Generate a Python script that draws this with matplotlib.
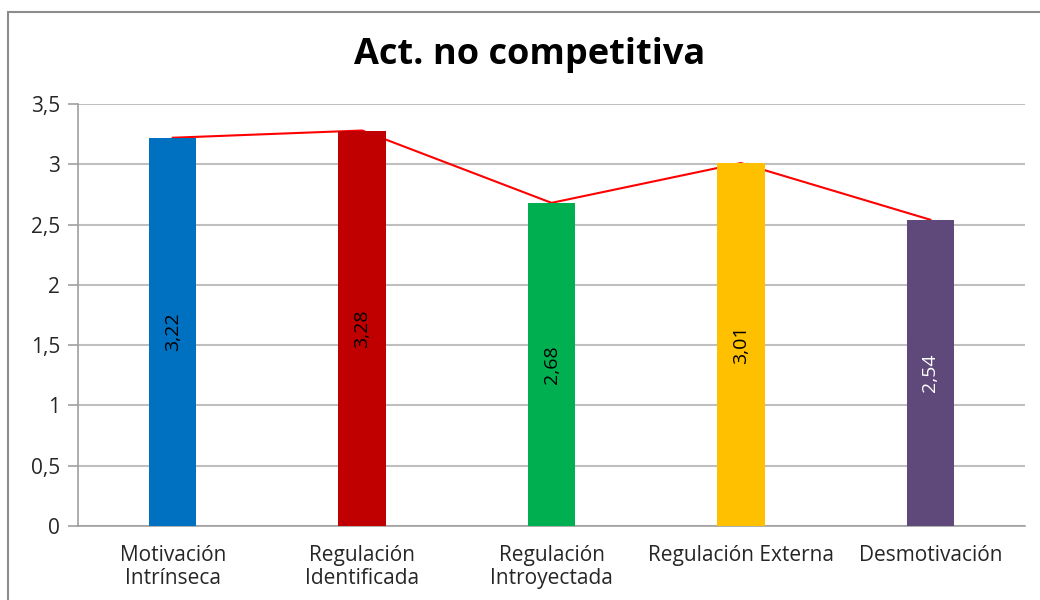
import matplotlib
matplotlib.use('Agg')
import matplotlib.pyplot as plt
import matplotlib.patches as mpatches
from matplotlib.ticker import FuncFormatter, MultipleLocator

# datos
categorias = ['Motivación\nIntrínseca', 'Regulación\nIdentificada', 'Regulación\nIntroyectada',
              'Regulación Externa', 'Desmotivación']
valores = [3.22, 3.28, 2.68, 3.01, 2.54]
colores = ['#0070C0', '#C00000', '#00B050', '#FFC000', '#5F497A']
color_texto = ['black', 'black', 'black', 'black', 'white']

plt.rcParams['font.family'] = ['Open Sans', 'DejaVu Sans']

fig = plt.figure(figsize=(10.4, 6), dpi=100)
ax = fig.add_axes([0.075, 0.1233, 0.9106, 0.7034])

x = range(len(categorias))

# línea roja detrás de las barras
ax.plot(x, valores, color='#FF0000', lw=1.5, zorder=2)
ax.bar(x, valores, width=0.25, color=colores, zorder=3)

for i, v in enumerate(valores):
    ax.text(i, v / 2, f'{v:.2f}'.replace('.', ','), rotation=90, ha='center', va='center',
            fontsize=14, color=color_texto[i], zorder=4)

ax.set_xlim(-0.5, len(categorias) - 0.5)
ax.set_ylim(0, 3.5)
ax.yaxis.set_major_locator(MultipleLocator(0.5))
ax.yaxis.set_major_formatter(FuncFormatter(lambda v, p: f'{v:g}'.replace('.', ',')))
ax.set_xticks(list(x))
ax.set_xticklabels(categorias, fontsize=15, color='#262626', linespacing=1.1)
ax.tick_params(axis='x', length=0, pad=14)
ax.tick_params(axis='y', length=7, width=1.2, color='#9f9f9f', labelsize=15,
               labelcolor='#262626', pad=6)

ax.grid(axis='y', color='#bfbfbf', lw=1.5, zorder=0)
for lado in ['top', 'right']:
    ax.spines[lado].set_visible(False)
for lado in ['left', 'bottom']:
    ax.spines[lado].set_color('#9f9f9f')
    ax.spines[lado].set_linewidth(1.2)

fig.text(0.509, 0.908, 'Act. no competitiva', ha='center', va='center',
         fontsize=26, fontweight='bold', color='black')

# marco del gráfico
marco = mpatches.Rectangle((8 / 1040, -0.1), 1.2, 1.1 - 12 / 600, transform=fig.transFigure,
                           fill=False, edgecolor='#8c8c8c', lw=1.5)
fig.patches.append(marco)

fig.savefig('out.png', dpi=100)
